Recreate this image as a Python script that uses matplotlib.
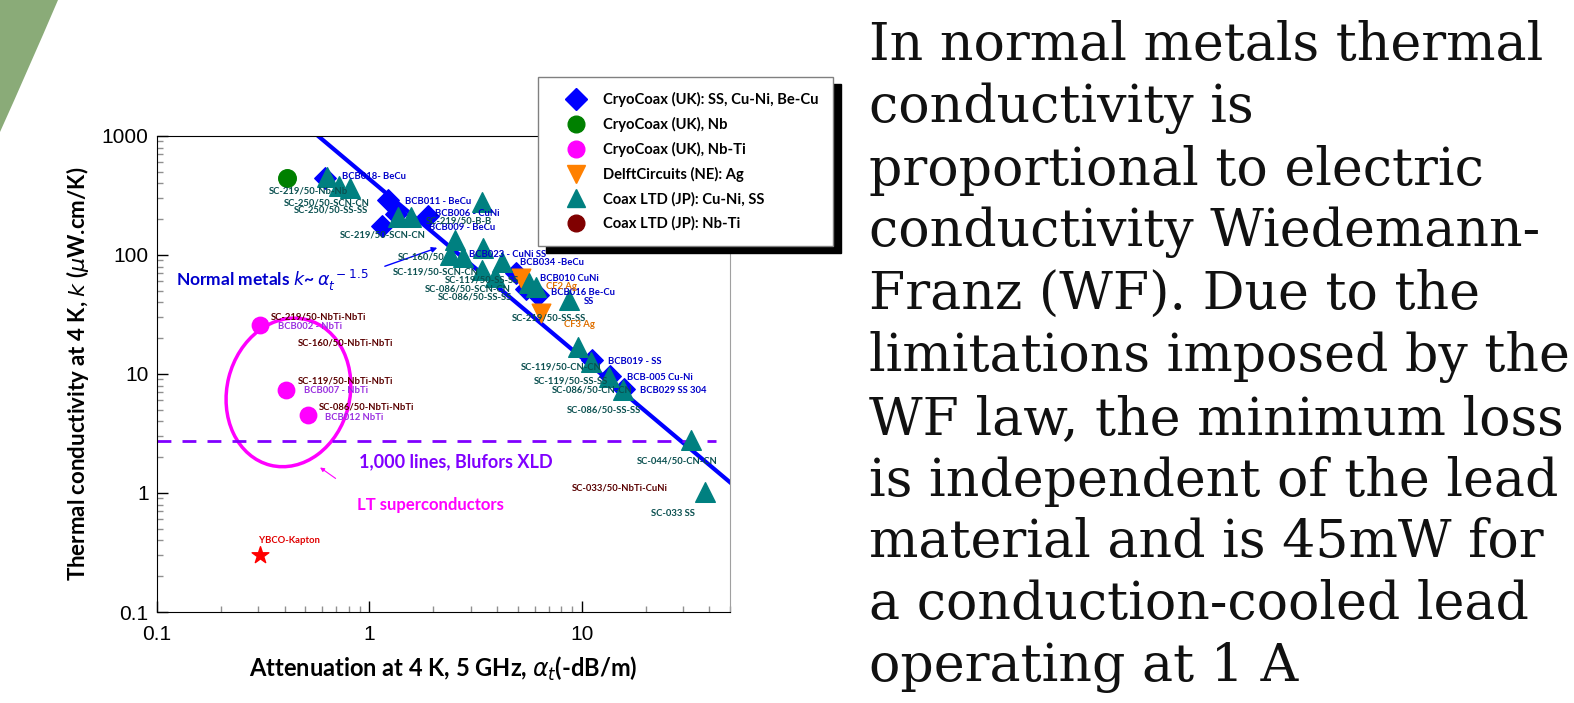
import numpy as np
import matplotlib
matplotlib.use("Agg")
import matplotlib.pyplot as plt
import matplotlib.ticker as ticker
from matplotlib.patches import Ellipse, Rectangle, PathPatch
from matplotlib.path import Path
from matplotlib.lines import Line2D
from matplotlib.transforms import ScaledTranslation

# --- values (attenuation dB/m, conductivity uW.cm/K) ---
cryo_ss_x = [0.62, 1.22, 1.15, 1.33, 1.90, 4.9, 5.5, 6.2, 11.2, 13.6, 15.8]
cryo_ss_y = [445, 290, 175, 222, 212, 70, 52, 46, 13.0, 9.7, 7.5]

cryo_nb_x = [0.41]
cryo_nb_y = [440]

cryo_nbti_x = [0.306, 0.407, 0.512]
cryo_nbti_y = [25.8, 7.35, 4.52]

delft_x = [5.18, 6.45]
delft_y = [64, 32.6]

coax_x = [0.63, 0.72, 0.81, 1.36, 1.57, 3.38, 2.54, 2.39, 2.77, 3.45, 4.2,
          3.38, 3.93, 5.63, 6.1, 8.75, 9.57, 11.1, 13.5, 15.6, 32.7, 38.1]
coax_y = [450, 380, 366, 209, 209, 279, 134, 100, 97, 115, 87,
          75, 65, 58, 54, 42, 16.9, 12.6, 9.5, 7.4, 2.79, 1.02]

coax_nbti_x = [0.306, 0.407, 0.512]
coax_nbti_y = [25.8, 7.35, 4.52]

ybco_x = [0.306]
ybco_y = [0.30]

fit_coef = 435.0      # k = C * alpha^-1.5
fit_exp = -1.5
fit_range = [0.58, 50]
blufors_k = 2.74
blufors_range = [0.1, 43]

legend_labels = ["CryoCoax (UK): SS, Cu-Ni, Be-Cu", "CryoCoax (UK), Nb",
                 "CryoCoax (UK), Nb-Ti", "DelftCircuits (NE): Ag",
                 "Coax LTD (JP): Cu-Ni, SS", "Coax LTD (JP): Nb-Ti"]

# point labels: text, x, y, colour key
pt_labels = [
    ("BCB018- BeCu", 0.743, 461, "b"), ("BCB011 - BeCu", 1.47, 284, "b"),
    ("BCB006 - CuNi", 2.04, 222, "b"), ("BCB009 - BeCu", 1.92, 169, "b"),
    ("BCB023 - CuNi SS", 2.95, 100, "b"), ("BCB034 -BeCu", 5.1, 86, "b"),
    ("BCB010 CuNi", 6.4, 63, "b"), ("BCB016 Be-Cu", 7.2, 48, "b"),
    ("SS", 10.3, 41, "b"), ("BCB019 - SS", 13.3, 12.7, "b"),
    ("BCB-005 Cu-Ni", 16.3, 9.4, "b"), ("BCB029 SS 304", 18.9, 7.2, "b"),
    ("SC-219/50-Nb-Nb", 0.338, 342, "t"), ("SC-250/50-SCN-CN", 0.394, 276, "t"),
    ("SC-250/50-SS-SS", 0.44, 238, "t"), ("SC-219/50-SCN-CN", 0.73, 147, "t"),
    ("SC-219/50-B-B", 1.84, 192, "t"), ("SC-160/50", 1.36, 96, "t"),
    ("SC-119/50-SCN-CN", 1.29, 72, "t"), ("SC-119/50-SS-SS", 2.28, 62, "t"),
    ("SC-086/50-SCN-CN", 1.83, 52, "t"), ("SC-086/50-SS-SS", 2.1, 44, "t"),
    ("SC-219/50-SS-SS", 4.7, 29.6, "t"), ("SC-119/50-CN-CN", 5.18, 11.5, "t"),
    ("SC-119/50-SS-SS", 5.97, 8.7, "t"), ("SC-086/50-CN-CN", 7.28, 7.4, "t"),
    ("SC-086/50-SS-SS", 8.5, 5.0, "t"), ("SC-044/50-CN-CN", 18.3, 1.85, "t"),
    ("SC-033 SS", 21.3, 0.67, "t"),
    ("CF2 Ag", 6.8, 54, "o"), ("CF3 Ag", 8.3, 26, "o"),
    ("SC-219/50-NbTi-NbTi", 0.345, 30, "r"), ("SC-160/50-NbTi-NbTi", 0.459, 18.2, "r"),
    ("SC-119/50-NbTi-NbTi", 0.459, 8.7, "r"), ("SC-086/50-NbTi-NbTi", 0.578, 5.3, "r"),
    ("SC-033/50-NbTi-CuNi", 9.0, 1.1, "r"),
    ("BCB002 - NbTi", 0.373, 25.3, "v"), ("BCB007 - NbTi", 0.495, 7.2, "v"),
    ("BCB012 NbTi", 0.62, 4.3, "v"),
    ("YBCO-Kapton", 0.303, 0.40, "red"),
]
label_colors = {"b": "#0000c8", "t": "#0b5050", "o": "#e07000",
                "r": "#5a0000", "v": "#9a30e0", "red": "#e00000"}

slide_text = ["In normal metals thermal", "conductivity is",
              "proportional to electric", "conductivity Wiedemann-",
              "Franz (WF). Due to the", "limitations imposed by the",
              "WF law, the minimum loss", "is independent of the lead",
              "material and is 45mW for", "a conduction-cooled lead",
              "operating at 1 A"]

plt.rcParams["mathtext.fontset"] = "dejavusans"

fig = plt.figure(figsize=(15.74, 7.03), dpi=100)
ax = fig.add_axes([157 / 1574, 1 - 612 / 703, 573 / 1574, 476 / 703])

ax.set_xscale("log")
ax.set_yscale("log")
ax.set_xlim(0.1, 50)
ax.set_ylim(0.1, 1000)

# fit line and Blufors limit
xf = np.geomspace(fit_range[0], fit_range[1], 50)
ax.plot(xf, fit_coef * xf ** fit_exp, color="#0000ff", lw=3, zorder=2)
ax.plot(blufors_range, [blufors_k, blufors_k], color="#8000ff", lw=2,
        dashes=(5, 4), zorder=2)

# markers
ax.scatter(coax_nbti_x, coax_nbti_y, marker="o", s=110, color="#800000", zorder=3)
ax.scatter(cryo_ss_x, cryo_ss_y, marker="D", s=120, color="#0000ff", zorder=3)
ax.scatter(cryo_nb_x, cryo_nb_y, marker="o", s=160, color="#008000", zorder=4)
ax.scatter(cryo_nbti_x, cryo_nbti_y, marker="o", s=140, color="#ff00ff", zorder=4)
ax.scatter(delft_x, delft_y, marker="v", s=180, color="#ff8000", zorder=4)
ax.scatter(coax_x, coax_y, marker="^", s=200, color="#008080", zorder=4)
ax.scatter(ybco_x, ybco_y, marker="*", s=160, color="#ff0000", zorder=4)

for txt, x, y, c in pt_labels:
    ax.text(x, y, txt, fontsize=6.8, fontweight="bold", color=label_colors[c],
            family="Lato", va="center", ha="left", zorder=5)

# annotations
ax.text(0.123, 61, r"Normal metals $k$~ $\alpha_t^{\ -1.5}$", color="#0000cc",
        fontsize=12.5, fontweight="bold", family="Lato", va="center")
ax.text(0.896, 1.82, "1,000 lines, Blufors XLD", color="#8000ff",
        fontsize=13, fontweight="bold", family="Lato", va="center")
ax.text(0.877, 0.79, "LT superconductors", color="#ff00ff",
        fontsize=12, fontweight="bold", family="Lato", va="center")
ax.annotate("", xy=(2.15, 117), xytext=(1.15, 79),
            arrowprops=dict(arrowstyle="-|>", color="#0000ff", lw=1, mutation_scale=8))
ax.annotate("", xy=(0.572, 1.69), xytext=(0.711, 1.285),
            arrowprops=dict(arrowstyle="-|>", color="#ff00ff", lw=0.8, mutation_scale=6))

ell = Ellipse((0, 0), width=1.23, height=1.5, angle=-14, fill=False,
              edgecolor="#ff00ff", lw=2.5,
              transform=fig.dpi_scale_trans + ScaledTranslation(0.416, 7.0, ax.transData))
ax.add_artist(ell)

# axes styling
fmt = ticker.FuncFormatter(lambda v, p: f"{v:g}")
ax.xaxis.set_major_formatter(fmt)
ax.yaxis.set_major_formatter(fmt)
ax.xaxis.set_minor_formatter(ticker.NullFormatter())
ax.yaxis.set_minor_formatter(ticker.NullFormatter())
ax.tick_params(which="both", direction="in", top=False, right=False)
ax.tick_params(which="major", length=8, width=1, labelsize=15)
ax.tick_params(axis="x", which="major", pad=9)
ax.tick_params(axis="y", which="major", pad=6)
ax.tick_params(which="minor", length=4, width=1, color="#909090")
for lab in ax.get_xticklabels() + ax.get_yticklabels():
    lab.set_family("Liberation Sans")
ax.spines["right"].set_color("#a0a0a0")
ax.set_xlabel(r"Attenuation at 4 K, 5 GHz, $\alpha_t$(-dB/m)", fontsize=17,
              fontweight="bold", family="Lato", labelpad=8)
ax.set_ylabel(r"Thermal conductivity at 4 K, $k$ ($\mu$W.cm/K)", fontsize=16,
              fontweight="bold", family="Lato", labelpad=8)

# legend with hard black shadow
handles = [
    Line2D([], [], ls="", marker="D", ms=11, color="#0000ff"),
    Line2D([], [], ls="", marker="o", ms=12, color="#008000"),
    Line2D([], [], ls="", marker="o", ms=12, color="#ff00ff"),
    Line2D([], [], ls="", marker="v", ms=13, color="#ff8000"),
    Line2D([], [], ls="", marker="^", ms=13, color="#008080"),
    Line2D([], [], ls="", marker="o", ms=12, color="#800000"),
]
leg = fig.legend(handles, legend_labels, loc="upper left",
                 bbox_to_anchor=(538 / 1574, 1 - 77 / 703),
                 prop={"family": "Lato", "weight": "bold", "size": 10.6},
                 frameon=True, fancybox=False, framealpha=1, edgecolor="#808080",
                 borderpad=1.0, labelspacing=0.68, handlelength=3.2,
                 handletextpad=0.2, borderaxespad=0)
leg.get_frame().set_linewidth(1)
leg.set_zorder(6)
fig.canvas.draw()
bb = leg.get_window_extent()
fig.patches.append(Rectangle((bb.x0 + 8, bb.y0 - 7), bb.width, bb.height,
                             color="black", transform=None, figure=fig, zorder=5))

# slide decoration and body text
verts = [(0, 1), (58 / 1574, 1), (28 / 1574, 1 - 70 / 703), (0, 1 - 132 / 703), (0, 1)]
codes = [Path.MOVETO, Path.LINETO, Path.CURVE3, Path.CURVE3, Path.CLOSEPOLY]
fig.patches.append(PathPatch(Path(verts, codes), facecolor="#8aab78", edgecolor="none",
                             transform=fig.transFigure, figure=fig))

fig.text(869 / 1574, 1 - 20 / 703, "\n".join(slide_text), family="DejaVu Serif",
         fontsize=37.5, va="top", ha="left", linespacing=1.27, color="#111111")

fig.savefig("out.png", dpi=100)
